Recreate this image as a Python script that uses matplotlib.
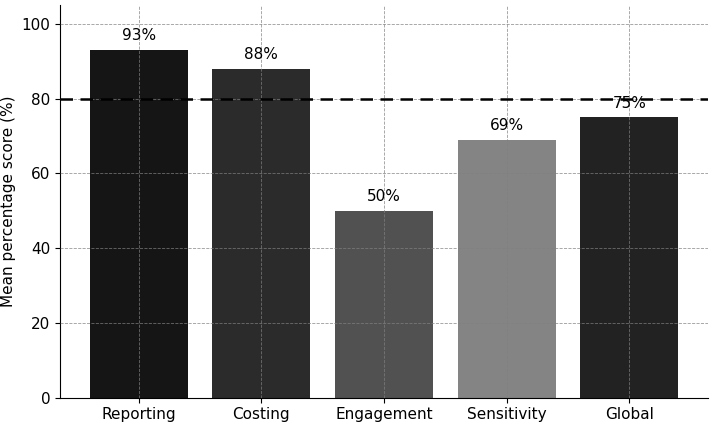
import matplotlib
matplotlib.use("Agg")
import matplotlib.pyplot as plt

categories = ["Reporting", "Costing", "Engagement", "Sensitivity", "Global"]
scores = [93, 88, 50, 69, 75]
bar_colors = ["#151515", "#2b2b2b", "#515151", "#848484", "#222222"]
threshold = 80

fig, ax = plt.subplots(figsize=(7.15, 4.23), dpi=100)
fig.subplots_adjust(left=0.084, right=0.99, top=0.988, bottom=0.06)

x = range(len(categories))
bars = ax.bar(x, scores, width=0.8, color=bar_colors, zorder=1)
ax.axhline(threshold, color="black", linestyle="--", linewidth=1.8, dashes=(5, 3), zorder=3)

for b, s in zip(bars, scores):
    ax.text(b.get_x() + b.get_width() / 2, s + 1.8, f"{s}%", ha="center", va="bottom",
            fontsize=11, zorder=4)

ax.set_xticks(list(x))
ax.set_xticklabels(categories, fontsize=11)
ax.tick_params(axis="y", labelsize=11)
ax.set_ylabel("Mean percentage score (%)", fontsize=11)
ax.set_ylim(0, 105)
ax.set_yticks([0, 20, 40, 60, 80, 100])
ax.grid(True, linestyle="--", color="gray", linewidth=0.6, alpha=0.8, zorder=2)
ax.set_axisbelow(False)
ax.spines["top"].set_visible(False)
ax.spines["right"].set_visible(False)

fig.savefig("out.png", dpi=100)
